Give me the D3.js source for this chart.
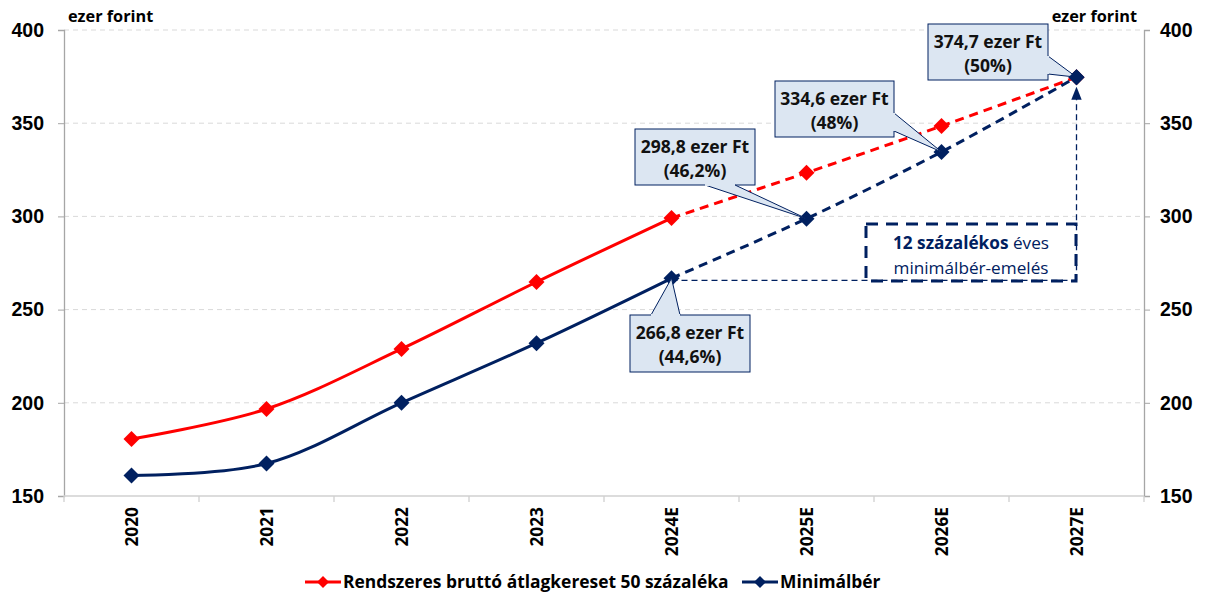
<!DOCTYPE html>
<html>
<head>
<meta charset="utf-8">
<script src="https://cdn.jsdelivr.net/npm/d3@7"></script>
<style>
  html, body { margin: 0; padding: 0; background: #fff; }
  svg { display: block; font-family: "Open Sans", Lato, "Liberation Sans", sans-serif; }
</style>
</head>
<body>
<svg id="chart" width="1207" height="594"></svg>
<script>
// Years on the x axis (E = estimate)
const years = ["2020", "2021", "2022", "2023", "2024E", "2025E", "2026E", "2027E"];
// 50% of the regular gross average wage, thousand HUF
const halfAvgWage = [180.6, 196.7, 228.9, 264.8, 299.1, 323.4, 348.5, 374.7];
// Minimum wage, thousand HUF
const minWage = [161.0, 167.4, 200.0, 232.0, 266.8, 298.8, 334.6, 374.7];
// Index where the projected (dashed) part begins
const projStart = 4;
// Y axis ticks
const yTicks = [150, 200, 250, 300, 350, 400];
// Labelled minimum-wage points: index, amount text, share text
const callouts = [
  { i: 4, amount: "266,8 ezer Ft", share: "(44,6%)" },
  { i: 5, amount: "298,8 ezer Ft", share: "(46,2%)" },
  { i: 6, amount: "334,6 ezer Ft", share: "(48%)" },
  { i: 7, amount: "374,7 ezer Ft", share: "(50%)" }
];
const seriesNames = ["Rendszeres bruttó átlagkereset 50 százaléka", "Minimálbér"];

const RED = "#ff0000", NAVY = "#002060", AXIS = "#a6a6a6", GRID = "#d9d9d9";
const svg = d3.select("#chart");
const m = { left: 64, right: 1144, top: 30, bottom: 496 };

const x = d3.scaleBand().domain(years).range([m.left, m.right]);
const cx = d => x(d) + x.bandwidth() / 2;
const y = d3.scaleLinear().domain([150, 400]).range([m.bottom, m.top]);

// gridlines
svg.append("g").selectAll("line").data(yTicks.filter(t => t > 150)).join("line")
  .attr("x1", m.left).attr("x2", m.right)
  .attr("y1", d => y(d)).attr("y2", d => y(d))
  .attr("stroke", GRID).attr("stroke-width", 1).attr("stroke-dasharray", "5,4");

// left axis
const leftAxis = svg.append("g").attr("transform", `translate(${m.left},0)`)
  .call(d3.axisLeft(y).tickValues(yTicks).tickSize(6).tickPadding(14));
// right axis
const rightAxis = svg.append("g").attr("transform", `translate(${m.right},0)`)
  .call(d3.axisRight(y).tickValues(yTicks).tickSize(6).tickPadding(10));
[leftAxis, rightAxis].forEach(g => {
  g.select(".domain").attr("stroke", AXIS).attr("stroke-width", 1.3);
  g.selectAll(".tick line").attr("stroke", AXIS);
  g.selectAll(".tick text").attr("font-size", 19.5).attr("font-weight", "bold").attr("fill", "#000");
});

// bottom axis: ticks between categories
const bottom = svg.append("g");
bottom.append("line").attr("x1", m.left).attr("x2", m.right)
  .attr("y1", m.bottom).attr("y2", m.bottom).attr("stroke", "#d0d0d0").attr("stroke-width", 1.5);
bottom.selectAll("line.tk").data(d3.range(years.length + 1)).join("line").attr("class", "tk")
  .attr("x1", i => m.left + i * x.step()).attr("x2", i => m.left + i * x.step())
  .attr("y1", m.bottom).attr("y2", m.bottom + 6).attr("stroke", "#d0d0d0").attr("stroke-width", 1.3);
bottom.selectAll("text").data(years).join("text")
  .attr("transform", d => `translate(${cx(d) + 6.5},${m.bottom + 11}) rotate(-90)`)
  .attr("text-anchor", "end").attr("font-size", 17.3).attr("font-weight", "bold").attr("fill", "#000")
  .text(d => d);

// unit labels
svg.append("text").attr("x", 68).attr("y", 22).attr("font-size", 16.3).attr("font-weight", "bold").text("ezer forint");
svg.append("text").attr("x", 1137).attr("y", 22).attr("text-anchor", "end").attr("font-size", 16.3).attr("font-weight", "bold").text("ezer forint");

// reference guides: horizontal from 2024E level, vertical arrow at 2027E
svg.append("defs").append("marker").attr("id", "arrowUp")
  .attr("viewBox", "0 0 10 10").attr("refX", 5).attr("refY", 5)
  .attr("markerWidth", 10).attr("markerHeight", 10).attr("orient", "auto")
  .append("path").attr("d", "M0,1 L10,5 L0,9 Z").attr("fill", NAVY);
const lastX = cx(years[7]);
const guideY = y(minWage[4]) + 2;
svg.append("line").attr("x1", cx(years[4])).attr("x2", lastX)
  .attr("y1", guideY).attr("y2", guideY)
  .attr("stroke", NAVY).attr("stroke-width", 1.3).attr("stroke-dasharray", "6,4");
svg.append("line").attr("x1", lastX).attr("x2", lastX)
  .attr("y1", guideY).attr("y2", y(minWage[7]) + 16)
  .attr("stroke", NAVY).attr("stroke-width", 1.3).attr("stroke-dasharray", "6,4")
  .attr("marker-end", "url(#arrowUp)");

// dashed note box
const note = svg.append("g");
note.append("rect").attr("x", 866).attr("y", 224).attr("width", 210).attr("height", 57)
  .attr("fill", "none").attr("stroke", NAVY).attr("stroke-width", 3).attr("stroke-dasharray", "12,8");
const t1 = note.append("text").attr("x", 971).attr("y", 249).attr("text-anchor", "middle")
  .attr("font-size", 17.2).attr("fill", NAVY);
t1.append("tspan").attr("font-weight", "bold").text("12 százalékos");
t1.append("tspan").text(" éves");
note.append("text").attr("x", 971).attr("y", 274).attr("text-anchor", "middle")
  .attr("font-size", 17.2).attr("fill", NAVY).text("minimálbér-emelés");

// series lines
function drawSeries(vals, color) {
  const pts = vals.map((v, i) => [cx(years[i]), y(v)]);
  const line = d3.line().curve(d3.curveCatmullRom.alpha(0.5));
  svg.append("path").attr("d", line(pts.slice(0, projStart + 1)))
    .attr("fill", "none").attr("stroke", color).attr("stroke-width", 3);
  svg.append("path").attr("d", line(pts.slice(projStart)))
    .attr("fill", "none").attr("stroke", color).attr("stroke-width", 3).attr("stroke-dasharray", "9,6");
  svg.append("g").selectAll("path").data(pts).join("path")
    .attr("d", p => `M${p[0]},${p[1] - 8}L${p[0] + 8},${p[1]}L${p[0]},${p[1] + 8}L${p[0] - 8},${p[1]}Z`)
    .attr("fill", color);
}
drawSeries(halfAvgWage, RED);
drawSeries(minWage, NAVY);

// callout boxes: box rect + pointer wedge to the point
const boxSpecs = {
  4: { x: 630, y: 315, w: 120, h: 57, wedge: (px, py) => [[651, 315], [px, py], [680, 315]] },
  5: { x: 635, y: 129, w: 120, h: 56, wedge: (px, py) => [[705, 185], [px, py], [735, 185]] },
  6: { x: 775, y: 81, w: 119, h: 56, wedge: (px, py) => [[894, 113], [px, py], [894, 131]] },
  7: { x: 928, y: 24, w: 120, h: 56, wedge: (px, py) => [[1048, 56], [px, py], [1048, 74]] }
};
callouts.forEach(c => {
  const b = boxSpecs[c.i];
  const px = cx(years[c.i]), py = y(minWage[c.i]);
  const g = svg.append("g");
  const w = b.wedge(px, py);
  g.append("rect").attr("x", b.x).attr("y", b.y).attr("width", b.w).attr("height", b.h)
    .attr("fill", "#dce6f2").attr("stroke", NAVY).attr("stroke-width", 1);
  g.append("path").attr("d", d3.line()(w)).attr("fill", "#dce6f2").attr("stroke", NAVY).attr("stroke-width", 1);
  // cover the box edge under the wedge base
  g.append("line").attr("x1", w[0][0]).attr("y1", w[0][1]).attr("x2", w[2][0]).attr("y2", w[2][1])
    .attr("stroke", "#dce6f2").attr("stroke-width", 2);
  g.append("text").attr("x", b.x + b.w / 2).attr("y", b.y + 24).attr("text-anchor", "middle")
    .attr("font-size", 17.5).attr("font-weight", "bold").attr("fill", "#111").text(c.amount);
  g.append("text").attr("x", b.x + b.w / 2).attr("y", b.y + 48).attr("text-anchor", "middle")
    .attr("font-size", 17.5).attr("font-weight", "bold").attr("fill", "#111").text(c.share);
});
// last minimum-wage marker on top of its callout wedge
{
  const p = [cx(years[7]), y(minWage[7])];
  svg.append("path")
    .attr("d", `M${p[0]},${p[1] - 8}L${p[0] + 8},${p[1]}L${p[0]},${p[1] + 8}L${p[0] - 8},${p[1]}Z`).attr("fill", NAVY);
}

// legend
const legend = svg.append("g");
[{ x0: 305, color: RED, name: seriesNames[0] }, { x0: 742, color: NAVY, name: seriesNames[1] }].forEach(l => {
  const ly = 582;
  legend.append("line").attr("x1", l.x0).attr("x2", l.x0 + 36).attr("y1", ly).attr("y2", ly)
    .attr("stroke", l.color).attr("stroke-width", 3);
  const mx = l.x0 + 18;
  legend.append("path").attr("d", `M${mx},${ly - 6}L${mx + 6},${ly}L${mx},${ly + 6}L${mx - 6},${ly}Z`).attr("fill", l.color);
  legend.append("text").attr("x", l.x0 + 38).attr("y", ly + 6).attr("font-size", 17.4)
    .attr("font-weight", "bold").attr("fill", "#000").text(l.name);
});
</script>
</body>
</html>
